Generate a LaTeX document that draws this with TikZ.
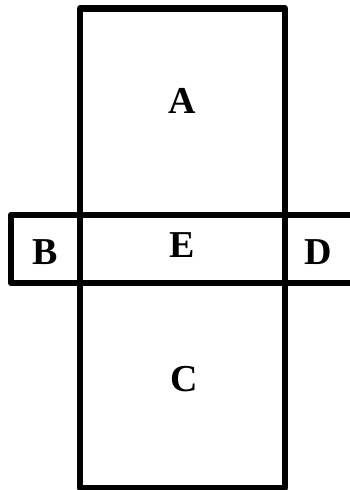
\documentclass[tikz,border=0pt]{standalone}
\usepackage{fontspec}
\setmainfont{Liberation Serif}
\begin{document}
\begin{tikzpicture}[x=1pt,y=-1pt,
  frame/.style={draw=black,line width=6.5pt,line join=round},
  lbl/.style={font=\fontsize{38}{40}\selectfont\bfseries,inner sep=0pt}]
\useasboundingbox (0,0) rectangle (350,490);
\clip (0,0) rectangle (350,490);
\draw[frame] (80,8.5) rectangle (285,488);
\draw[frame] (11,215) rectangle (370,283);
\node[lbl] (A) at (182,101) {A};
\node[lbl] (B) at (45,252) {B};
\node[lbl] (E) at (182,245) {E};
\node[lbl] (D) at (318,252) {D};
\node[lbl] (C) at (184,379) {C};
\end{tikzpicture}
\end{document}
